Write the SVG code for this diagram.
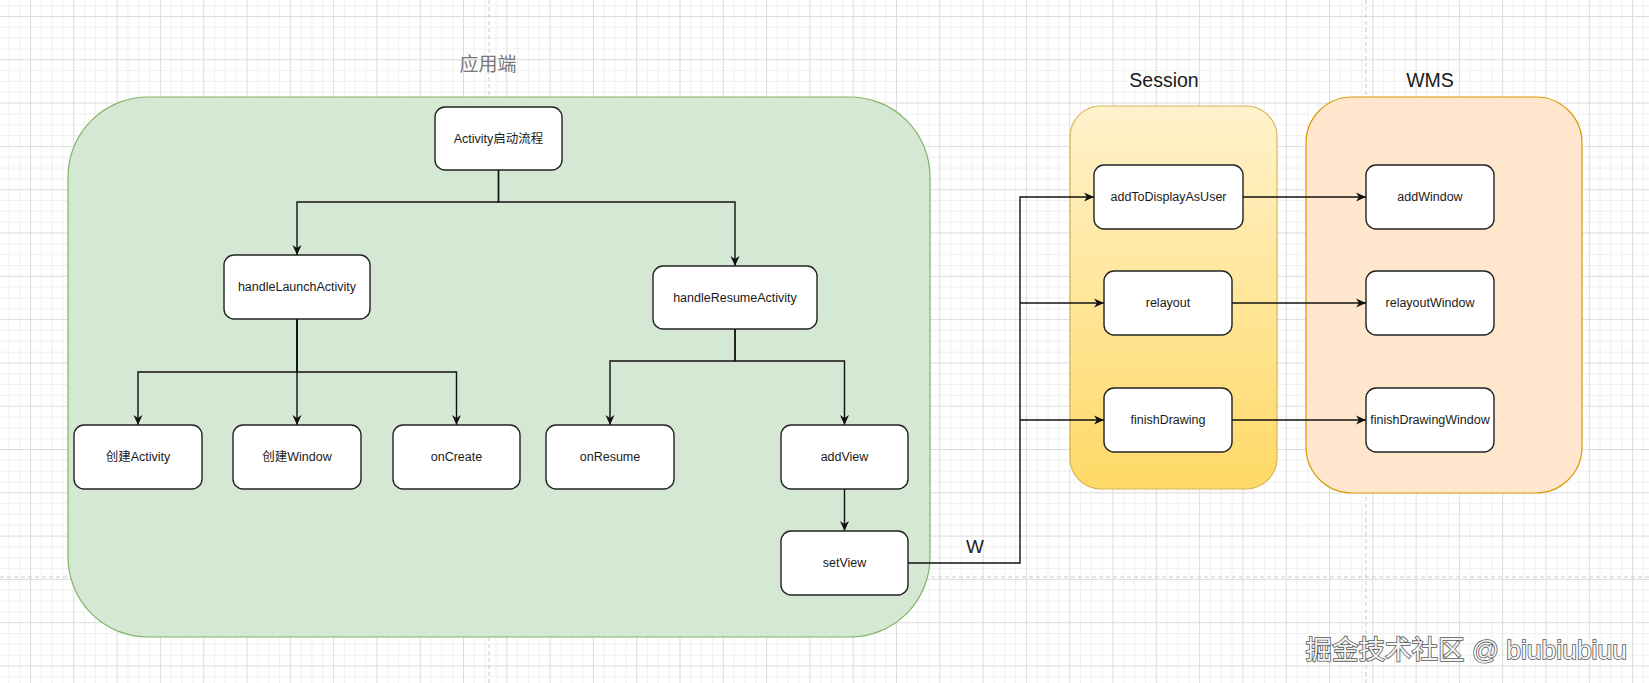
<svg xmlns="http://www.w3.org/2000/svg" width="1649" height="683" viewBox="0 0 1649 683">
<defs>
<pattern id="grid" patternUnits="userSpaceOnUse" x="30" y="16" width="43.3" height="43.3">
<rect width="43.3" height="43.3" fill="#ffffff"/>
<g fill="#f0f0f0">
<rect x="10.8" y="0" width="1" height="43.3"/>
<rect x="21.6" y="0" width="1" height="43.3"/>
<rect x="32.5" y="0" width="1" height="43.3"/>
<rect x="0" y="10.8" width="43.3" height="1"/>
<rect x="0" y="21.6" width="43.3" height="1"/>
<rect x="0" y="32.5" width="43.3" height="1"/>
</g>
<g fill="#dcdcdc">
<rect x="0" y="0" width="1" height="43.3"/>
<rect x="0" y="0" width="43.3" height="1"/>
</g>
</pattern>
<linearGradient id="sessGrad" x1="0" y1="0" x2="0" y2="1">
<stop offset="0" stop-color="#fff2cc"/>
<stop offset="1" stop-color="#ffd966"/>
</linearGradient>
<marker id="arrow" viewBox="0 0 10 10" refX="10" refY="5" markerWidth="10" markerHeight="10" markerUnits="userSpaceOnUse" orient="auto">
<path d="M0,0.5 L10,5 L0,9.5 L3,5 Z" fill="#111111"/>
</marker>
</defs>
<style>
.node rect { fill:#ffffff; stroke:#222222; stroke-width:1.4; }
.node text { font-family:"Liberation Sans","Noto Sans CJK SC",sans-serif; font-size:12.5px; fill:#1a1a1a; text-anchor:middle; dominant-baseline:central; }
.conn path { fill:none; stroke:#111111; stroke-width:1.4; marker-end:url(#arrow); }
.title { font-family:"Liberation Sans","Noto Sans CJK SC",sans-serif; font-size:19.5px; fill:#1a1a1a; text-anchor:middle; }
.page { stroke:#c8c8c8; stroke-width:1; stroke-dasharray:4 3; fill:none; }
</style>
<rect width="1649" height="683" fill="url(#grid)"/>
<g id="page-breaks">
<line class="page" x1="489" y1="0" x2="489" y2="683"/>
<line class="page" x1="1366" y1="0" x2="1366" y2="683"/>
<line class="page" x1="0" y1="577" x2="1649" y2="577"/>
</g>
<g id="app-container">
<rect x="68" y="97" width="862" height="540" rx="80" ry="80" fill="#d5e8d4" stroke="#82b366" stroke-width="1.2"/>
<text x="488" y="71" font-family="'Noto Sans CJK SC',sans-serif" font-size="19px" fill="#777777" text-anchor="middle">应用端</text>
</g>
<g id="session-container">
<rect x="1070" y="106" width="207" height="383" rx="31" ry="31" fill="url(#sessGrad)" stroke="#d6b656" stroke-width="1.2"/>
<text class="title" x="1164" y="87">Session</text>
</g>
<g id="wms-container">
<rect x="1306" y="97" width="276" height="396" rx="46" ry="46" fill="#ffe6cc" stroke="#d79b00" stroke-width="1.2"/>
<text class="title" x="1430" y="87">WMS</text>
</g>
<g id="connectors" class="conn">
<path d="M498.5,170 V202 H297 V255"/>
<path d="M498.5,170 V202 H735 V266"/>
<path d="M297,319 V372 H138 V425"/>
<path d="M297,319 V425"/>
<path d="M297,319 V372 H456.5 V425"/>
<path d="M735,329 V361 H610 V425"/>
<path d="M735,329 V361 H844.5 V425"/>
<path d="M844.5,489 V531"/>
<path d="M908,563 H1020 V197 H1094"/>
<path d="M1020,303 H1104"/>
<path d="M1020,420 H1104"/>
<path d="M1243,197 H1366"/>
<path d="M1232,303 H1366"/>
<path d="M1232,420 H1366"/>
<text x="975" y="553" font-family="'Liberation Sans',sans-serif" font-size="19px" fill="#222222" text-anchor="middle">W</text>
</g>
<g id="n-activity" class="node"><rect x="435" y="107" width="127" height="63" rx="10"/><text x="498.5" y="138.5">Activity启动流程</text></g>
<g id="n-handleLaunch" class="node"><rect x="224" y="255" width="146" height="64" rx="10"/><text x="297" y="287">handleLaunchActivity</text></g>
<g id="n-handleResume" class="node"><rect x="653" y="266" width="164" height="63" rx="10"/><text x="735" y="297.5">handleResumeActivity</text></g>
<g id="n-createActivity" class="node"><rect x="74" y="425" width="128" height="64" rx="10"/><text x="138" y="457">创建Activity</text></g>
<g id="n-createWindow" class="node"><rect x="233" y="425" width="128" height="64" rx="10"/><text x="297" y="457">创建Window</text></g>
<g id="n-onCreate" class="node"><rect x="393" y="425" width="127" height="64" rx="10"/><text x="456.5" y="457">onCreate</text></g>
<g id="n-onResume" class="node"><rect x="546" y="425" width="128" height="64" rx="10"/><text x="610" y="457">onResume</text></g>
<g id="n-addView" class="node"><rect x="781" y="425" width="127" height="64" rx="10"/><text x="844.5" y="457">addView</text></g>
<g id="n-setView" class="node"><rect x="781" y="531" width="127" height="64" rx="10"/><text x="844.5" y="563">setView</text></g>
<g id="n-addToDisplayAsUser" class="node"><rect x="1094" y="165" width="149" height="64" rx="10"/><text x="1168.5" y="197">addToDisplayAsUser</text></g>
<g id="n-relayout" class="node"><rect x="1104" y="271" width="128" height="64" rx="10"/><text x="1168" y="303">relayout</text></g>
<g id="n-finishDrawing" class="node"><rect x="1104" y="388" width="128" height="64" rx="10"/><text x="1168" y="420">finishDrawing</text></g>
<g id="n-addWindow" class="node"><rect x="1366" y="165" width="128" height="64" rx="10"/><text x="1430" y="197">addWindow</text></g>
<g id="n-relayoutWindow" class="node"><rect x="1366" y="271" width="128" height="64" rx="10"/><text x="1430" y="303">relayoutWindow</text></g>
<g id="n-finishDrawingWindow" class="node"><rect x="1366" y="388" width="128" height="64" rx="10"/><text x="1430" y="420">finishDrawingWindow</text></g>
<g id="watermark">
<text x="1627" y="659" font-family="'Liberation Sans','Noto Sans CJK SC',sans-serif" font-size="26.5px" fill="#f4f4f4" stroke="#5a5a5a" stroke-width="1.6" paint-order="stroke" text-anchor="end">掘金技术社区 @ biubiubiuu</text>
</g>
</svg>
